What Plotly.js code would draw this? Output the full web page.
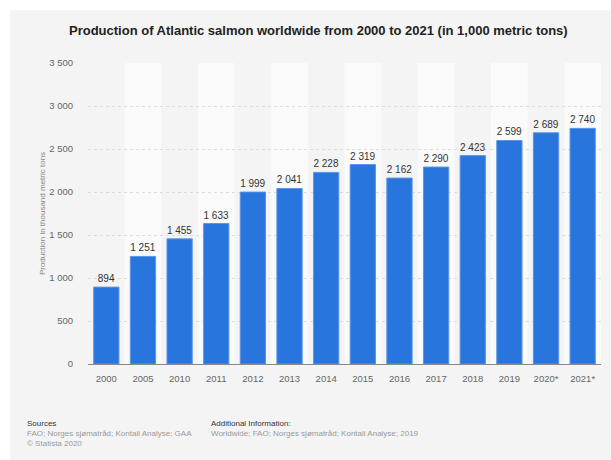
<!DOCTYPE html>
<html><head><meta charset="utf-8">
<script src="https://cdn.plot.ly/plotly-3.0.1.min.js"></script>
<style>html,body{margin:0;padding:0;background:#fff;}#chart{position:absolute;left:10px;top:10px;width:601px;height:450px;}</style>
</head><body><div id="chart"></div>
<script>
const categories = ["2000","2005","2010","2011","2012","2013","2014","2015","2016","2017","2018","2019","2020*","2021*"];
const production = [894,1251,1455,1633,1999,2041,2228,2319,2162,2290,2423,2599,2689,2740];
const yTicks = [0,500,1000,1500,2000,2500,3000,3500];

const shapes = [];
categories.forEach((c,i)=>{ if(i%2===1){ shapes.push({type:'rect',xref:'x',yref:'paper',x0:i-0.5,x1:i+0.5,y0:0,y1:1,fillcolor:'#fafafa',line:{width:0},layer:'below'}); }});

const font = "'Liberation Sans', Arial, sans-serif";
Plotly.newPlot('chart',[{
  type:'bar', x:categories, y:production,
  marker:{color:'#2876dd', line:{color:'#5b95e6', width:1}},
  text:production, texttemplate:'%{y:,}', textposition:'outside', cliponaxis:false, constraintext:'none',
  textfont:{family:font,size:10,color:'#333'}, hoverinfo:'none'
}],{
  width:601, height:450, separators:'. ',
  paper_bgcolor:'#f4f4f4', plot_bgcolor:'#f4f4f4',
  margin:{l:78,r:10,t:53,b:96},
  bargap:0.31,
  title:{text:'<b>Production of Atlantic salmon worldwide from 2000 to 2021 (in 1,000 metric tons)</b>', font:{family:font,size:13,color:'#222'}, x:0.513, xanchor:'center', y:0.955, yanchor:'middle'},
  xaxis:{type:'category', tickfont:{family:font,size:9.5,color:'#666'}, ticks:'outside', ticklen:6, tickcolor:'rgba(0,0,0,0)', showline:true, linecolor:'#888', linewidth:1, showgrid:false, fixedrange:true},
  yaxis:{range:[0,3500], tickvals:yTicks, tickformat:',', tickfont:{family:font,size:9.5,color:'#666'}, ticks:'outside', ticklen:12, tickcolor:'rgba(0,0,0,0)', showgrid:true, gridcolor:'#dcdcdc', griddash:'dot', zeroline:false,
    title:{text:'Production in thousand metric tons', font:{family:font,size:8,color:'#888'}, standoff:2}, fixedrange:true},
  shapes:shapes,
  showlegend:false,
  annotations:[
    {xref:'paper',yref:'paper',x:-0.122,y:-0.175,xanchor:'left',yanchor:'top',align:'left',showarrow:false,text:'Sources',font:{family:font,size:8,color:'#333'}},
    {xref:'paper',yref:'paper',x:-0.122,y:-0.21,xanchor:'left',yanchor:'top',align:'left',showarrow:false,text:'FAO; Norges sjømatråd; Kontali Analyse; GAA<br>© Statista 2020',font:{family:font,size:8,color:'#999'}},
    {xref:'paper',yref:'paper',x:0.236,y:-0.175,xanchor:'left',yanchor:'top',align:'left',showarrow:false,text:'Additional Information:',font:{family:font,size:8,color:'#333'}},
    {xref:'paper',yref:'paper',x:0.236,y:-0.21,xanchor:'left',yanchor:'top',align:'left',showarrow:false,text:'Worldwide; FAO; Norges sjømatråd; Kontali Analyse; 2019',font:{family:font,size:8,color:'#999'}}
  ]
},{displayModeBar:false,staticPlot:true});
</script></body></html>
